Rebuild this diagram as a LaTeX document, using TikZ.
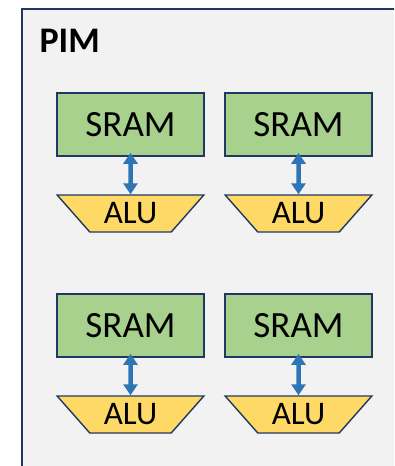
\documentclass[tikz,border=0pt]{standalone}
\usepackage{fontspec}
\setmainfont{Carlito}
\usetikzlibrary{arrows.meta,shapes.geometric}
\definecolor{panelbg}{HTML}{F2F2F2}
\definecolor{edgeblue}{HTML}{1F3864}
\definecolor{sramgreen}{HTML}{A9D18E}
\definecolor{alugold}{HTML}{FFD966}
\definecolor{linkblue}{HTML}{2E75B6}
\tikzset{
  sram/.style={draw=edgeblue, line width=1.6pt, fill=sramgreen,
    minimum width=147pt, minimum height=63pt, inner sep=0pt,
    font=\fontsize{37}{37}\selectfont},
  alu/.style={draw=edgeblue, line width=1.4pt, fill=alugold,
    trapezium, shape border rotate=180, trapezium angle=45,
    trapezium stretches=true,
    minimum width=148pt, minimum height=37pt, inner sep=0pt,
    font=\fontsize{33}{33}\selectfont},
  link/.style={draw=linkblue, line width=4.5pt,
    {Triangle[length=11pt,width=14pt]}-{Triangle[length=11pt,width=14pt]},
    shorten <=-4pt}
}
\begin{document}
\begin{tikzpicture}[x=1pt,y=-1pt]
  \useasboundingbox (0,0) rectangle (394,466);
  \clip (0,0) rectangle (394,466);
  \fill[white] (0,0) rectangle (394,466);
  % enclosing PIM panel
  \node[draw=edgeblue, line width=1.5pt, fill=panelbg, anchor=north west,
        minimum width=400pt, minimum height=480pt] (pim) at (21,8) {};
  \node[anchor=base west, font=\bfseries\fontsize{36}{36}\selectfont]
        (pimlabel) at (36,52) {PIM};
  % memory banks with their ALUs
  \node[sram] (s1) at (130.5,124.5) {SRAM};
  \node[sram] (s2) at (298.5,124.5) {SRAM};
  \node[sram] (s3) at (130.5,325.5) {SRAM};
  \node[sram] (s4) at (298.5,325.5) {SRAM};
  \node[alu] (a1) at (130.5,213.5) {ALU};
  \node[alu] (a2) at (298.5,213.5) {ALU};
  \node[alu] (a3) at (130.5,414.5) {ALU};
  \node[alu] (a4) at (298.5,414.5) {ALU};
  \draw[link] (s1.south) -- (a1.north);
  \draw[link] (s2.south) -- (a2.north);
  \draw[link] (s3.south) -- (a3.north);
  \draw[link] (s4.south) -- (a4.north);
\end{tikzpicture}
\end{document}
